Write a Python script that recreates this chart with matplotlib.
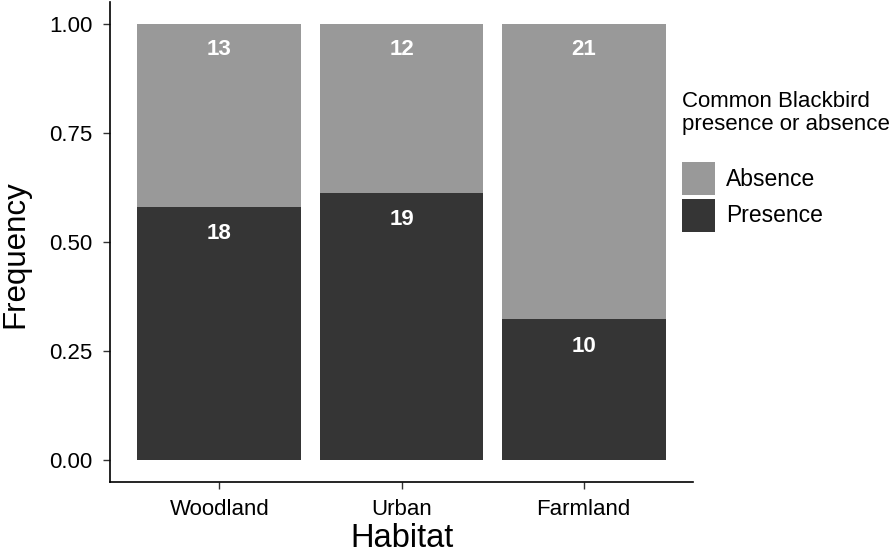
import numpy as np
import matplotlib.pyplot as plt
from matplotlib.patches import Patch

# counts
habitats = ["Woodland", "Urban", "Farmland"]
presence = [18, 19, 10]
absence = [13, 12, 21]
status = ["Absence", "Presence"]
colors = {"Absence": "#999999", "Presence": "#353535"}

plt.rcParams['font.family'] = ['Liberation Sans', 'DejaVu Sans']

presence = np.array(presence, dtype=float)
absence = np.array(absence, dtype=float)
total = presence + absence
p_pres = presence / total
p_abs = absence / total

fig = plt.figure(figsize=(8.96, 5.6), dpi=100)
ax = fig.add_axes([110 / 896, 78 / 560, (693 - 110) / 896, (482 - 2) / 560])

x = np.arange(1, len(habitats) + 1)
ax.bar(x, p_pres, width=0.9, color=colors["Presence"])
ax.bar(x, p_abs, width=0.9, bottom=p_pres, color=colors["Absence"])

# count labels just under the top of each segment
for xi, pp, n_p, n_a in zip(x, p_pres, presence, absence):
    ax.text(xi, pp - 0.062, f"{int(n_p)}", ha="center", va="center",
            color="white", fontsize=16, fontweight="bold")
    ax.text(xi, 1 - 0.058, f"{int(n_a)}", ha="center", va="center",
            color="white", fontsize=16, fontweight="bold")

ax.set_xlim(0.4, 3.6)
ax.set_ylim(-0.05, 1.05)
ax.set_xticks(x)
ax.set_xticklabels(habitats)
ax.set_yticks([0, 0.25, 0.5, 0.75, 1.0])
ax.set_yticklabels(["0.00", "0.25", "0.50", "0.75", "1.00"])
ax.tick_params(axis="both", labelsize=16, length=5, width=1, color="#333333",
               labelcolor="black")
ax.tick_params(axis="x", pad=7.5)
ax.tick_params(axis="y", pad=7.5)

for s in ["top", "right"]:
    ax.spines[s].set_visible(False)
for s in ["left", "bottom"]:
    ax.spines[s].set_linewidth(1.2)

ax.set_xlabel("Habitat", fontsize=23.5)
ax.set_ylabel("Frequency", fontsize=22.5)
ax.xaxis.set_label_coords(0.5, -0.086)
ax.yaxis.set_label_coords(-(110 - 30) / 583, 0.475)

handles = [Patch(facecolor=colors[s], edgecolor="none", label=s) for s in status]
leg = fig.legend(handles=handles, title="Common Blackbird\npresence or absence",
                 loc="upper left", bbox_to_anchor=(682 / 896, 1 - 91 / 560),
                 frameon=False, fontsize=16.5, title_fontsize=16,
                 handlelength=1.44, handleheight=1.84, handletextpad=0.48,
                 labelspacing=0.17, borderpad=0, borderaxespad=0,
                 alignment="left")
leg.get_title().set_linespacing(1.1)
leg._legend_box.sep = 19.5

fig.savefig("out.png", dpi=100)
